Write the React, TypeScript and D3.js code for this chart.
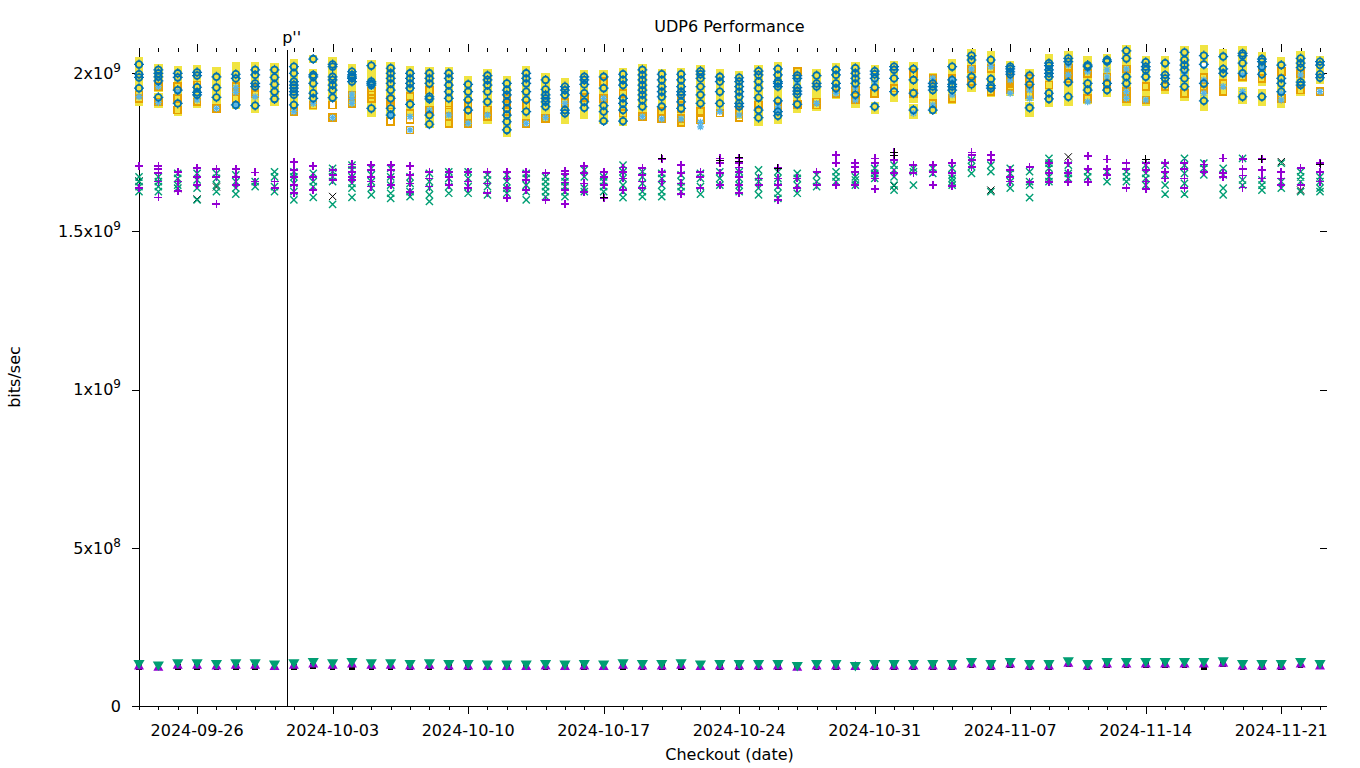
import React from "react";
import * as d3 from "d3";

// ---------- data (values in Gbit/s, i.e. x 1e9 bits/sec) ----------
const checkoutDates = [
  "2024-09-23","2024-09-24","2024-09-25","2024-09-26","2024-09-27","2024-09-28","2024-09-29","2024-09-30",
  "2024-10-01","2024-10-02","2024-10-03","2024-10-04","2024-10-05","2024-10-06","2024-10-07","2024-10-08",
  "2024-10-09","2024-10-10","2024-10-11","2024-10-12","2024-10-13","2024-10-14","2024-10-15","2024-10-16",
  "2024-10-17","2024-10-18","2024-10-19","2024-10-20","2024-10-21","2024-10-22","2024-10-23","2024-10-24",
  "2024-10-25","2024-10-26","2024-10-27","2024-10-28","2024-10-29","2024-10-30","2024-10-31","2024-11-01",
  "2024-11-02","2024-11-03","2024-11-04","2024-11-05","2024-11-06","2024-11-07","2024-11-08","2024-11-09",
  "2024-11-10","2024-11-11","2024-11-12","2024-11-13","2024-11-14","2024-11-15","2024-11-16","2024-11-17",
  "2024-11-18","2024-11-19","2024-11-20","2024-11-21","2024-11-22","2024-11-23",
];

const majorTickDates = ["2024-09-26","2024-10-03","2024-10-10","2024-10-17","2024-10-24","2024-10-31","2024-11-07","2024-11-14","2024-11-21"];
const yTickValues = [0, 0.5, 1, 1.5, 2];
const yTickMantissa = ["0", "5", "1", "1.5", "2"];
const yTickExponent = ["", "8", "9", "9", "9"];
const eventDate = "2024-09-30T15:40";
const eventLabel = "p''";

const upperBlue = [
  [2.027,1.996,1.986,1.952],[2.010,1.999,1.988,1.975,1.923],[1.999,1.986,1.946,1.904],[2.002,1.992,1.955,1.939,1.931],
  [1.988,1.954,1.923],[1.996,1.983,1.899],[2.010,1.994,1.967,1.957,1.897],[2.010,1.986,1.964,1.941,1.918],
  [2.020,1.999,1.973,1.962,1.952,1.941,1.931,1.899],[2.044,1.994,1.988,1.967,1.936,1.920],[2.027,2.020,1.988,1.978,1.962,1.946,1.922],
  [2.004,1.994,1.988,1.983,1.973],[2.023,1.973,1.967,1.962,1.888],[2.015,1.999,1.983,1.967,1.946,1.920,1.888,1.867],
  [1.999,1.983,1.967,1.952,1.901],[1.999,1.983,1.967,1.925,1.918,1.867,1.838],[1.999,1.983,1.962,1.941,1.920],
  [1.964,1.941,1.915,1.883],[1.992,1.978,1.962,1.941,1.909],[1.967,1.946,1.931,1.909,1.888,1.867,1.846,1.820],
  [1.999,1.983,1.967,1.941,1.915,1.878],[1.978,1.948,1.931,1.920,1.909,1.894],[1.957,1.946,1.931,1.883,1.873],
  [1.988,1.978,1.964,1.936,1.909,1.890],[1.988,1.952,1.897,1.878,1.848],[1.996,1.978,1.962,1.920,1.904,1.883,1.848],
  [2.010,1.994,1.978,1.962,1.946,1.931,1.915,1.894],[1.996,1.978,1.957,1.941,1.925,1.894],[1.996,1.978,1.957,1.941,1.931,1.909,1.888],
  [2.006,1.996,1.983,1.957,1.931,1.904],[1.988,1.973,1.941,1.904],[1.985,1.973,1.957,1.941,1.925,1.904,1.894],
  [2.006,1.994,1.973,1.952,1.922,1.883,1.859],[2.013,1.994,1.973,1.967,1.957,1.912,1.878,1.865],[1.992,1.983,1.954,1.943,1.933,1.901],
  [1.992,1.967,1.957],[2.010,1.994,1.967,1.952],[2.015,1.999,1.983,1.967,1.931],[2.006,1.996,1.983,1.954,1.894],
  [2.020,2.010,1.983,1.941],[2.013,1.978,1.936,1.883],[1.967,1.957,1.946,1.883],[2.020,1.978,1.964,1.957,1.946],
  [2.055,2.041,1.988,1.964],[2.041,1.981,1.960,1.952],[2.020,2.013,2.004,1.996],[1.992,1.964,1.890],
  [2.031,2.023,2.010,1.999,1.988,1.936,1.918],[2.046,2.036,1.971,1.925],[2.025,2.020,1.967,1.946],[2.041,2.036,1.967,1.946],
  [2.070,2.046,1.988,1.967],[2.034,2.020,2.010,1.988],[2.031,1.994,1.983,1.964],[2.065,2.041,2.025,2.010,1.983,1.957],
  [2.055,2.027,1.967,1.912],[2.052,2.013,1.999],[2.062,2.055,2.031,1.999,1.925],[2.044,2.036,2.020,1.996,1.925],
  [2.025,1.983,1.967,1.941],[2.046,2.031,2.017,1.971,1.962],[2.036,2.025,1.996,1.985],
];

const upperYellow = [
  [2.038,2.027,2.010,1.996,1.986,1.971,1.952,1.936,1.920,1.909],
  [2.015,2.004,1.988,1.975,1.962,1.952,1.925,1.915,1.904],
  [2.010,1.999,1.986,1.973,1.957,1.946,1.931,1.915,1.904,1.888,1.878],
  [2.013,2.002,1.992,1.978,1.962,1.955,1.939,1.931,1.915,1.904],
  [2.006,1.994,1.988,1.973,1.962,1.954,1.941,1.923,1.909],
  [2.020,2.006,1.996,1.983,1.967,1.952,1.936,1.920,1.904,1.899],
  [2.023,2.010,1.994,1.978,1.967,1.957,1.941,1.925,1.909,1.897,1.888],
  [2.017,2.010,1.996,1.986,1.975,1.964,1.952,1.941,1.928,1.918,1.909],
  [2.031,2.020,2.006,1.999,1.985,1.973,1.962,1.952,1.941,1.931,1.915,1.899,1.886],
  [2.044,1.999,1.988,1.978,1.967,1.952,1.936,1.920,1.907,1.897],
  [2.036,2.027,2.020,2.006,1.994,1.988,1.978,1.962,1.946,1.933,1.922],
  [2.015,2.004,1.994,1.983,1.973,1.962,1.946,1.931,1.915,1.904],
  [2.027,2.013,1.999,1.988,1.973,1.962,1.946,1.931,1.915,1.899,1.888,1.873],
  [2.020,2.015,1.999,1.983,1.967,1.952,1.936,1.920,1.904,1.888,1.873,1.867],
  [2.010,1.999,1.983,1.967,1.952,1.936,1.920,1.904,1.888,1.873],
  [2.006,1.999,1.983,1.967,1.952,1.936,1.925,1.909,1.894,1.878,1.867,1.852,1.838],
  [2.006,1.999,1.983,1.962,1.941,1.920,1.904,1.888,1.873,1.857,1.841],
  [1.978,1.964,1.952,1.941,1.925,1.915,1.899,1.883,1.867,1.852,1.841],
  [1.999,1.992,1.978,1.962,1.952,1.941,1.925,1.909,1.894,1.878,1.862,1.852],
  [1.978,1.967,1.957,1.946,1.931,1.920,1.909,1.899,1.888,1.878,1.867,1.857,1.846,1.830,1.820,1.812],
  [2.010,1.999,1.983,1.967,1.952,1.941,1.925,1.915,1.899,1.878,1.867],
  [1.988,1.978,1.962,1.948,1.931,1.920,1.909,1.894,1.878,1.862],
  [1.971,1.957,1.946,1.931,1.915,1.904,1.888,1.873,1.862,1.852],
  [1.996,1.988,1.978,1.964,1.952,1.936,1.920,1.909,1.890,1.878,1.867],
  [1.996,1.988,1.973,1.962,1.952,1.936,1.909,1.897,1.888,1.878,1.862,1.852],
  [2.002,1.996,1.978,1.962,1.946,1.931,1.920,1.904,1.883,1.867,1.852,1.846],
  [2.015,2.010,1.994,1.978,1.962,1.946,1.931,1.915,1.894,1.878],
  [1.999,1.996,1.978,1.967,1.957,1.941,1.925,1.909,1.894,1.883,1.878],
  [2.004,1.996,1.978,1.957,1.941,1.931,1.920,1.909,1.888,1.873,1.857,1.846],
  [2.013,2.006,1.996,1.983,1.967,1.957,1.941,1.931,1.915,1.904,1.888,1.873],
  [1.999,1.988,1.973,1.957,1.941,1.925,1.904,1.888],
  [1.992,1.985,1.973,1.957,1.941,1.925,1.904,1.894,1.878,1.867],
  [2.013,2.006,1.994,1.973,1.952,1.936,1.922,1.904,1.883,1.867,1.859,1.846],
  [2.020,2.013,1.994,1.973,1.957,1.941,1.925,1.912,1.894,1.878,1.865,1.852],
  [2.006,1.992,1.983,1.967,1.954,1.943,1.933,1.915,1.901,1.888],
  [1.999,1.992,1.978,1.967,1.957,1.941,1.925,1.909,1.899,1.894],
  [2.017,2.010,1.994,1.978,1.967,1.952,1.941,1.931],
  [2.020,2.015,1.999,1.983,1.967,1.952,1.936,1.931,1.915,1.904],
  [2.013,2.006,1.996,1.983,1.967,1.954,1.941,1.894,1.883],
  [2.025,2.020,2.010,1.994,1.983,1.967,1.952,1.941,1.922],
  [2.020,2.013,2.004,1.988,1.978,1.952,1.936,1.920,1.888,1.878,1.867],
  [1.988,1.978,1.967,1.957,1.946,1.936,1.925,1.899,1.883],
  [2.031,2.020,2.010,1.983,1.978,1.964,1.957,1.946,1.931,1.920,1.915],
  [2.062,2.055,2.041,2.031,2.020,2.004,1.988,1.973,1.964,1.952],
  [2.057,2.041,2.031,2.020,1.988,1.981,1.967,1.960,1.952,1.936],
  [2.025,2.020,2.013,2.004,1.996,1.983,1.967,1.952,1.941],
  [1.999,1.992,1.978,1.964,1.952,1.936,1.925,1.894,1.883,1.873],
  [2.048,2.036,2.031,2.023,2.010,1.999,1.988,1.973,1.957,1.946,1.936,1.918,1.907],
  [2.057,2.046,2.036,2.020,2.004,1.988,1.971,1.957,1.946,1.925,1.909],
  [2.041,2.025,2.020,2.004,1.988,1.967,1.957,1.946,1.931,1.915],
  [2.048,2.041,2.036,2.020,2.004,1.988,1.978,1.967,1.952,1.946,1.936],
  [2.076,2.070,2.057,2.046,2.031,2.013,1.999,1.988,1.967,1.952,1.936,1.920,1.909],
  [2.041,2.034,2.020,2.010,1.988,1.973,1.957,1.941,1.925,1.909],
  [2.041,2.031,2.015,1.999,1.994,1.983,1.964,1.952,1.946],
  [2.073,2.065,2.052,2.041,2.025,2.010,1.996,1.983,1.967,1.957,1.941,1.925],
  [2.076,2.065,2.055,2.044,2.004,1.988,1.973,1.967,1.952,1.922,1.912,1.899,1.894],
  [2.062,2.052,2.036,2.020,2.013,1.999,1.983,1.967,1.952,1.941],
  [2.073,2.062,2.055,2.041,2.031,2.015,1.999,1.985,1.941,1.925,1.915],
  [2.052,2.044,2.036,2.020,2.006,1.996,1.983,1.973,1.936,1.925,1.909],
  [2.036,2.025,2.010,1.994,1.983,1.967,1.952,1.941,1.925,1.909,1.904],
  [2.055,2.046,2.031,2.017,2.004,1.988,1.971,1.962,1.952,1.941],
  [2.041,2.036,2.025,2.010,1.996,1.985,1.978],
];

const upperOrange = [
  [1.931,1.920],[1.957,1.909],[1.957,1.920,1.883],[1.962,1.909],[1.888],[1.957,1.941,1.920],[1.952,1.936],[],
  [1.878],[1.899],[1.899,1.859],[1.931,1.904],[1.941,1.931,1.920],[1.915,1.899,1.846],[1.925,1.873,1.852,1.820],[1.946,1.883],
  [1.899,1.883,1.862,1.841],[1.899,1.862,1.841],[1.883,1.862],[1.920,1.904,1.878],[1.899,1.841],[1.857],[1.907],[1.922],
  [1.973,1.920],[1.936,1.873],[1.862],[1.878,1.855],[1.920,1.888,1.857,1.844],[1.878,1.852],[1.873],[1.878,1.859],
  [1.899],[1.894],[2.004,1.901],[1.909,1.899],[1.936],[1.946,1.915],[1.936],[1.952],
  [1.999,1.936],[1.983,1.904],[1.983,1.920],[2.013,1.973],[2.015,1.941],[1.988,1.973,1.957,1.946],[1.983,1.952,1.931],[1.962],
  [2.015,1.999,1.983],[1.999,1.920],[1.988,1.962],[2.013,1.941,1.920],[1.957,1.915],[1.957],[1.936],[1.985,1.957,1.946],
  [1.967,1.941],[1.988],[2.020,1.983],[2.004,1.920],[1.999,1.946],[1.941],
];

const upperLightBlue = [
  [1.925],[1.957,1.907],[1.941],[1.915],[1.888],[1.954,1.939,1.899],[1.925],[],
  [1.878],[1.904],[1.859],[1.933,1.920,1.904],[1.957],[1.867],[1.862,1.820],[1.883],
  [1.867],[1.841],[1.867],[],[1.841],[1.859],[1.904],[],
  [1.920],[],[1.862],[1.855],[1.855],[1.844,1.830],[1.878],[1.867],
  [],[1.894,1.883],[1.973],[1.904],[1.936],[1.952,1.915],[1.971],[],
  [1.873],[1.983,1.899],[1.978,1.931],[2.013],[2.020],[1.978,1.936],[1.946,1.920],[],
  [2.025,1.994],[2.004,1.909],[2.010,1.988],[2.013,1.941,1.920],[1.915],[],[1.999],[1.978,1.936],
  [1.957],[1.994,1.941],[2.015],[1.936,1.915],[1.994],[1.941],
];

const middlePurple = [
  [1.706,1.636],[1.706,1.696,1.685,1.657,1.607],[1.688,1.657,1.628],[1.699,1.672,1.646],[1.697,1.672,1.585],[1.697,1.672,1.646],[1.686,1.657],[1.657,1.636],
  [1.718,1.694,1.672,1.646,1.620],[1.706,1.672,1.630],[1.694,1.678,1.662],[1.711,1.701,1.688,1.672,1.662],[1.709,1.694,1.672,1.657,1.641],[1.709,1.694,1.672,1.646],[1.707,1.678,1.651,1.625],[1.688,1.667,1.641],
  [1.688,1.672,1.646],[1.688,1.657,1.636],[1.688,1.651,1.620],[1.688,1.667,1.636,1.604],[1.688,1.662,1.630],[1.683,1.599],[1.690,1.680,1.654,1.630,1.585],[1.706,1.683,1.651,1.625],
  [1.688,1.672,1.646,1.606],[1.701,1.688,1.667,1.630],[1.699,1.678,1.657,1.636],[1.727,1.688,1.657],[1.709,1.683,1.651,1.617],[1.688,1.672,1.636],[1.730,1.715,1.683,1.646],[1.730,1.715,1.701,1.688,1.672,1.646,1.620],
  [1.667,1.646],[1.699,1.667,1.646,1.598],[1.667,1.636],[1.688,1.646],[1.741,1.715,1.646],[1.715,1.704,1.688,1.646],[1.730,1.715,1.683,1.667,1.634],[1.749,1.725,1.683],
  [1.709,1.683],[1.709,1.688,1.646],[1.715,1.683,1.644],[1.749,1.741,1.725,1.704],[1.741,1.725],[1.694,1.672,1.657],[1.704,1.655],[1.715,1.683,1.655],
  [1.715,1.683,1.655],[1.738,1.697,1.655],[1.727,1.697,1.678],[1.715,1.697,1.636],[1.715,1.694,1.657,1.634],[1.715,1.688,1.667],[1.715,1.697,1.667,1.636],[1.711,1.688],
  [1.730,1.683,1.672],[1.728,1.697,1.676,1.638],[1.728,1.694,1.667],[1.688,1.667,1.646],[1.699,1.646],[1.715,1.688,1.657],
];

const middleGreen = [
  [1.672,1.657,1.641,1.625],[1.672,1.657,1.641,1.625],[1.683,1.667,1.646,1.636],[1.683,1.662,1.636,1.599],[1.683,1.667,1.646,1.625],[1.678,1.657,1.636,1.617],[1.657,1.641],[1.688,1.672,1.641,1.625],
  [1.688,1.672,1.651,1.625,1.599],[1.683,1.657,1.641,1.607],[1.699,1.688,1.672,1.657,1.585],[1.709,1.694,1.672,1.651,1.636,1.607],[1.699,1.678,1.657,1.636,1.615],[1.699,1.672,1.646,1.620,1.604],[1.672,1.651,1.625,1.609],[1.683,1.657,1.636,1.615,1.594],
  [1.688,1.667,1.641,1.620],[1.688,1.667,1.641,1.620],[1.678,1.662,1.641,1.615],[1.678,1.657,1.636,1.620],[1.683,1.667,1.646,1.625,1.599],[1.672,1.657,1.641,1.625,1.609],[1.672,1.657,1.641,1.625,1.609],[1.694,1.672,1.636,1.625],
  [1.672,1.657,1.641,1.625],[1.709,1.688,1.667,1.646,1.625,1.606],[1.688,1.672,1.651,1.625,1.609],[1.683,1.667,1.646,1.625,1.609],[1.678,1.657,1.641,1.625],[1.683,1.667,1.641,1.617],[1.688,1.667,1.646],[1.688,1.667,1.646,1.625],
  [1.694,1.672,1.657,1.636,1.615],[1.688,1.667,1.641,1.620,1.604],[1.683,1.667,1.646,1.620],[1.678,1.657,1.641],[1.688,1.672,1.657],[1.672,1.662,1.646],[1.699,1.683,1.667],[1.709,1.694,1.672,1.646,1.630],
  [1.699,1.688,1.646],[1.699,1.683],[1.699,1.678,1.667,1.657,1.646],[1.725,1.704,1.683],[1.709,1.688,1.625],[1.699,1.683,1.657,1.636],[1.688,1.657,1.646,1.606],[1.730,1.715,1.699,1.672,1.657],
  [1.709,1.683,1.667],[1.688,1.672],[1.688,1.657],[1.688,1.672,1.657],[1.709,1.683,1.667,1.646],[1.709,1.678,1.646,1.617],[1.730,1.709,1.683,1.651,1.617],[1.715,1.699,1.678],
  [1.699,1.678,1.636,1.615],[1.730,1.662,1.646],[1.662,1.646,1.630],[1.715,1.657,1.636],[1.688,1.672,1.657,1.625],[1.672,1.657,1.636,1.625],
];

// sparse black series: [day index, value]
const middleBlackPlus = [[24,1.608],[27,1.731],[30,1.725],[31,1.733],[31,1.720],[33,1.699],[39,1.750],[39,1.740],[52,1.728],[58,1.728],[61,1.712]];
const middleBlackCross = [[0,1.659],[2,1.635],[3,1.602],[4,1.640],[10,1.610],[39,1.643],[44,1.630],[48,1.735],[59,1.720],[60,1.630]];

const lowerGreen = [
  0.133,0.128,0.135,0.135,0.133,0.135,0.135,0.131,0.135,0.139,0.135,0.139,0.135,0.135,0.133,0.135,
  0.133,0.133,0.131,0.131,0.131,0.133,0.131,0.133,0.131,0.135,0.133,0.133,0.135,0.131,0.133,
  0.133,0.133,0.133,0.127,0.133,0.133,0.127,0.133,0.133,0.133,0.133,0.133,0.139,0.133,0.139,0.133,
  0.133,0.142,0.133,0.139,0.139,0.139,0.139,0.139,0.139,0.142,0.133,0.133,0.133,0.139,0.133,
];
const lowerPurple = [
  0.128,0.124,0.130,0.130,0.128,0.130,0.130,0.126,0.130,0.134,0.130,0.134,0.130,0.130,0.128,0.130,
  0.128,0.128,0.126,0.126,0.126,0.128,0.126,0.128,0.126,0.130,0.128,0.128,0.130,0.126,0.128,
  0.128,0.128,0.128,0.124,0.128,0.128,0.126,0.128,0.128,0.128,0.128,0.128,0.134,0.128,0.134,0.128,
  0.128,0.137,0.128,0.134,0.134,0.134,0.134,0.134,0.134,0.137,0.128,0.128,0.128,0.134,0.128,
];
const lowerBlack = [
  0.124,0.124,0.123,0.124,0.124,0.124,0.124,0.124,0.124,0.126,0.124,0.124,0.123,0.124,0.122,0.124,
  0.123,0.124,0.124,0.123,0.124,0.124,0.124,0.124,0.123,0.124,0.124,0.124,0.123,0.124,0.124,
  0.124,0.123,0.124,0.123,0.124,0.123,0.124,0.124,0.124,0.124,0.124,0.123,0.130,0.124,0.130,0.123,
  0.124,0.132,0.123,0.130,0.130,0.130,0.130,0.130,0.123,0.132,0.123,0.123,0.123,0.130,0.126,
];

// ---------- colours ----------
const C = {
  purple: "#9400d3",
  green: "#009e73",
  lightblue: "#56b4e9",
  orange: "#e69f00",
  yellow: "#f0e442",
  blue: "#0072b2",
  black: "#000000",
};

const FONT = "'DejaVu Sans', Verdana, sans-serif";

type Pt = { x: number; y: number };

function markerPath(kind: string, x: number, y: number): string {
  switch (kind) {
    case "plus": {
      const s = 4;
      return `M${x - s},${y}H${x + s}M${x},${y - s}V${y + s}`;
    }
    case "cross": {
      const s = 3.6;
      return `M${x - s},${y - s}L${x + s},${y + s}M${x - s},${y + s}L${x + s},${y - s}`;
    }
    case "star": {
      const s = 3.5;
      const t = 2.6;
      return `M${x - s},${y}H${x + s}M${x},${y - s}V${y + s}M${x - t},${y - t}L${x + t},${y + t}M${x - t},${y + t}L${x + t},${y - t}`;
    }
    case "square": {
      const s = 4.2;
      return `M${x - s},${y - s}H${x + s}V${y + s}H${x - s}Z`;
    }
    case "osquare": {
      const s = 3.4;
      return `M${x - s},${y - s}H${x + s}V${y + s}H${x - s}Z`;
    }
    case "bsquare": {
      const s = 2.8;
      return `M${x - s},${y - s}H${x + s}V${y + s}H${x - s}Z`;
    }
    case "tri": {
      const s = 5;
      return `M${x},${y - s}L${x + s},${y + s * 0.8}L${x - s},${y + s * 0.8}Z`;
    }
    case "itri": {
      const s = 5.6;
      return `M${x - s},${y - s * 0.7}L${x + s},${y - s * 0.7}L${x},${y + s}Z`;
    }
    default:
      return "";
  }
}

function circleStubs(x: number, y: number): string {
  const r = 3.3;
  const e = 5;
  return `M${x - e},${y}H${x - r}M${x + r},${y}H${x + e}M${x},${y - e}V${y - r}M${x},${y + r}V${y + e}`;
}

export default function App() {
  const width = 1360;
  const height = 768;
  const left = 139;
  const right = 1320;
  const bottom = 706;
  const top = 52;

  const parse = d3.utcParse("%Y-%m-%d");
  const parseT = d3.utcParse("%Y-%m-%dT%H:%M");
  const dates = checkoutDates.map((d) => parse(d) as Date);

  const x = d3.scaleUtc().domain([dates[0], dates[dates.length - 1]]).range([left, right]);
  const y = d3.scaleLinear().domain([0, 2e9]).range([bottom, 73]);
  const G = 1e9;

  const dayTicks = d3.utcDay.range(dates[0], d3.utcDay.offset(dates[dates.length - 1], 1));
  const majorSet = new Set(majorTickDates);
  const fmt = d3.utcFormat("%Y-%m-%d");

  const pts = (series: number[][]) => {
    const out: Pt[] = [];
    series.forEach((vals, i) => vals.forEach((v) => out.push({ x: x(dates[i]), y: y(v * G) })));
    return out;
  };
  const sparse = (series: number[][]) => series.map(([i, v]) => ({ x: x(dates[i]), y: y(v * G) }));
  const flat = (series: number[]) => series.map((v, i) => ({ x: x(dates[i]), y: y(v * G) }));

  const pathOf = (kind: string, p: Pt[]) => p.map((q) => markerPath(kind, q.x, q.y)).join("");

  const eventX = x(parseT(eventDate) as Date);

  return (
    <svg width={width} height={height} style={{ display: "block", position: "absolute", left: 0, top: 0, background: "#fff" }} fontFamily={FONT}>
      <rect x={0} y={0} width={width} height={height} fill="#fff" />
      {/* title */}
      <text x={(left + right) / 2} y={31.5} textAnchor="middle" fontSize={16}>UDP6 Performance</text>

      {/* event line */}
      <line x1={eventX} x2={eventX} y1={50} y2={bottom} stroke="#000" strokeWidth={1} shapeRendering="crispEdges" />
      <text x={eventX - 5} y={43} fontSize={16}>{eventLabel}</text>

      {/* axes lines */}
      <line x1={left} x2={left} y1={48} y2={bottom} stroke="#000" strokeWidth={1} shapeRendering="crispEdges" />
      <line x1={left} x2={1327} y1={bottom} y2={bottom} stroke="#000" strokeWidth={1} shapeRendering="crispEdges" />

      {/* x ticks */}
      {dayTicks.map((d, i) => {
        const xx = Math.round(x(d)) + 0.5;
        const major = majorSet.has(fmt(d));
        return (
          <g key={"xt" + i}>
            <line x1={xx} x2={xx} y1={bottom} y2={bottom + (major ? 8 : 4)} stroke="#000" strokeWidth={1} shapeRendering="crispEdges" />
            <line x1={xx} x2={xx} y1={top} y2={top - (major ? 8 : 4)} stroke="#000" strokeWidth={1} shapeRendering="crispEdges" />
          </g>
        );
      })}
      {majorTickDates.map((d) => (
        <text key={"xl" + d} x={x(parse(d) as Date)} y={736} textAnchor="middle" fontSize={16}>{d}</text>
      ))}

      {/* y ticks */}
      {yTickValues.map((v, i) => {
        const yy = Math.round(y(v * G)) + 0.5;
        return (
          <g key={"yt" + i}>
            <line x1={left - 7} x2={left} y1={yy} y2={yy} stroke="#000" strokeWidth={1} shapeRendering="crispEdges" />
            <line x1={right} x2={right + 7} y1={yy} y2={yy} stroke="#000" strokeWidth={1} shapeRendering="crispEdges" />
            <text x={121} y={y(v * G) + 5.8} textAnchor="end" fontSize={16}>
              {yTickExponent[i] ? (
                <>
                  <tspan>{yTickMantissa[i]}x10</tspan>
                  <tspan dy={-7} fontSize={12}>{yTickExponent[i]}</tspan>
                </>
              ) : (
                yTickMantissa[i]
              )}
            </text>
          </g>
        );
      })}

      {/* axis labels */}
      <text x={(left + right) / 2} y={760} textAnchor="middle" fontSize={16}>Checkout (date)</text>
      <text transform="translate(20,377) rotate(-90)" textAnchor="middle" fontSize={16}>bits/sec</text>

      {/* upper group */}
      <path d={pathOf("square", pts(upperYellow))} fill={C.yellow} shapeRendering="crispEdges" />
      <path d={pathOf("osquare", pts(upperOrange))} fill="none" stroke={C.orange} strokeWidth={1.7} shapeRendering="crispEdges" />
      <path d={pathOf("star", pts(upperLightBlue))} fill="none" stroke={C.lightblue} strokeWidth={1.3} />
      <g fill="none" stroke={C.blue} strokeWidth={1.8}>
        {pts(upperBlue).map((p, i) => (
          <circle key={"bc" + i} cx={p.x} cy={p.y} r={3.3} />
        ))}
      </g>
      <path d={pts(upperBlue).map((p) => circleStubs(p.x, p.y)).join("")} stroke={C.blue} strokeWidth={1.2} fill="none" />

      {/* middle group */}
      <path d={pathOf("cross", sparse(middleBlackCross))} fill="none" stroke={C.black} strokeWidth={1} />
      <path d={pathOf("cross", pts(middleGreen))} fill="none" stroke={C.green} strokeWidth={1.4} />
      <path d={pathOf("plus", pts(middlePurple))} fill="none" stroke={C.purple} strokeWidth={1.7} shapeRendering="crispEdges" />
      <path d={pathOf("plus", sparse(middleBlackPlus))} fill="none" stroke={C.black} strokeWidth={1} shapeRendering="crispEdges" />

      {/* lower group */}
      <path d={pathOf("bsquare", flat(lowerBlack))} fill={C.black} shapeRendering="crispEdges" />
      <path d={pathOf("tri", flat(lowerPurple))} fill={C.purple} />
      <path d={pathOf("itri", flat(lowerGreen))} fill={C.green} />
    </svg>
  );
}
